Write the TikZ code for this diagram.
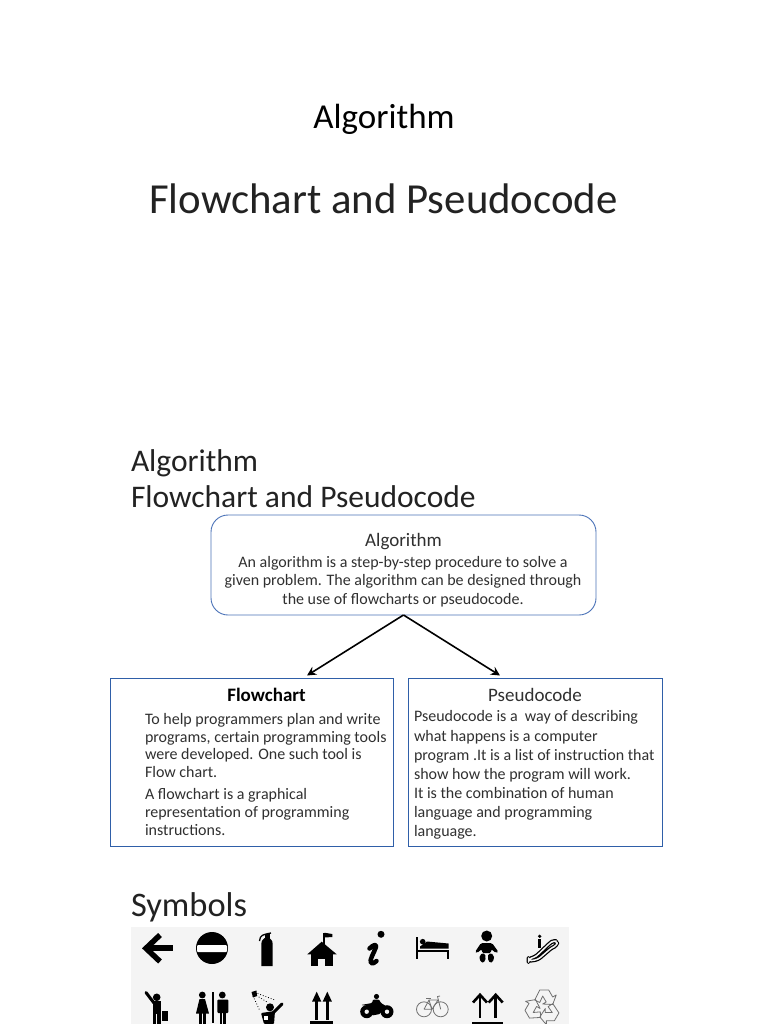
\documentclass[tikz,border=0pt]{standalone}
\usepackage{fontspec}
\setmainfont{Carlito}
\usetikzlibrary{arrows.meta}
\definecolor{bluea}{HTML}{4A72B8}
\definecolor{blueb}{HTML}{2F5FA8}
\definecolor{bodytxt}{HTML}{303030}
\definecolor{headtxt}{HTML}{222222}
\definecolor{iconbg}{HTML}{F4F4F4}
\definecolor{iconline}{HTML}{707070}
\tikzset{
  x=1pt,y=-1pt,
  txt/.style={inner sep=0pt,outer sep=0pt,anchor=base west,text=headtxt},
  ctr/.style={inner sep=0pt,outer sep=0pt,anchor=base,text=black},
  body/.style={inner sep=0pt,outer sep=0pt,anchor=base west,align=left,text=bodytxt},
  bodyc/.style={inner sep=0pt,outer sep=0pt,anchor=base,align=center,text=bodytxt},
  panel/.style={draw=blueb,line width=0.9pt,fill=white,inner sep=0pt,outer sep=0pt,anchor=north west},
  link/.style={draw=black,line width=1.6pt,-{Stealth[length=9pt,width=9pt]}},
  gbike/.style={draw=iconline,fill=none,line width=0.8pt},
}
\begin{document}
\begin{tikzpicture}
\useasboundingbox (0,0) rectangle (768,1024);
\fill[white] (0,0) rectangle (768,1024);
% titles
\node[ctr,font=\fontsize{35}{40}\selectfont] (t1) at (384,129) {Algorithm};
\node[ctr,font=\fontsize{42.8}{48}\selectfont,text=headtxt] (t2) at (383.5,214) {Flowchart and Pseudocode};
\node[txt,font=\fontsize{31.5}{35.5}\selectfont,align=left] (h1) at (131,507) {Algorithm\\Flowchart and Pseudocode};
\node[txt,font=\fontsize{34.4}{40}\selectfont] (h2) at (131,916) {Symbols};
% boxes
\node[panel,draw=bluea,rounded corners=17pt,minimum width=385pt,minimum height=100pt] (algo) at (211,515) {};
\node[panel,minimum width=283pt,minimum height=168pt] (flow) at (110.5,678.5) {};
\node[panel,minimum width=254pt,minimum height=168pt] (pseudo) at (408.5,678.5) {};
% box text
\node[ctr,font=\fontsize{19}{22}\selectfont,text=bodytxt] (algot) at (403.5,546.2) {Algorithm};
\node[bodyc,font=\fontsize{16}{18.8}\selectfont] (algob) at (403,604.6) {An algorithm is a step-by-step procedure to solve a\\given problem. The algorithm can be designed through\\the use of flowcharts or pseudocode.};
\node[ctr,font=\fontsize{19}{22}\selectfont\bfseries] (flowt) at (266.5,701.5) {Flowchart};
\node[body,font=\fontsize{16}{17.8}\selectfont] (flowa) at (145,777.6) {To help programmers plan and write\\programs, certain programming tools\\were developed. One such tool is\\Flow chart.};
\node[body,font=\fontsize{16}{17.8}\selectfont] (flowb) at (145,835) {A flowchart is a graphical\\representation of programming\\instructions.};
\node[ctr,font=\fontsize{19}{22}\selectfont,text=bodytxt] (pseudot) at (535,701.5) {Pseudocode};
\node[body,font=\fontsize{16}{19.1}\selectfont] (pseudob) at (414,836.5) {Pseudocode is a\ \ way of describing\\what happens is a computer\\program .It is a list of instruction that\\show how the program will work.\\It is the combination of human\\language and programming\\language.};
% connectors
\coordinate (flowin) at (307,675.5);
\coordinate (pseudoin) at (500,675.5);
\draw[link] (algo.south) -- (flowin);
\draw[link] (algo.south) -- (pseudoin);
% icon panel
\fill[iconbg] (131,927) rectangle (569,1024);
\begin{scope}
\clip (131,927) rectangle (569,1024);
% left arrow
\draw[black,line width=5.5pt,line join=miter] (160,935) -- (146,948.3) -- (160,961.5);
\fill[black] (150,945.3) rectangle (173,951.3);
% no entry
\fill[black] (212,948) circle (16);
\fill[white,rounded corners=1pt] (197,945) rectangle (227,952);
% extinguisher
\fill[black] (261.3,966) -- (261.3,944) .. controls (261.3,940) and (264,939) .. (264.5,938) -- (269.5,938) .. controls (270,939) and (272.7,940) .. (272.7,944) -- (272.7,966) -- cycle;
\fill[black] (264.5,934) rectangle (269.5,939);
\draw[black,line width=1.3pt] (259.5,941) .. controls (260,935) and (263,934.5) .. (271,933);
% schoolhouse
\fill[black] (321.7,941.7) -- (336.7,954.3) -- (307.3,954.3) -- cycle;
\fill[black] (310.7,953) rectangle (333.3,965.7);
\fill[iconbg] (318.3,958.5) rectangle (325.3,965.7);
\draw[black,line width=1.2pt] (324,933) -- (324,945);
\fill[black] (324.5,932.7) -- (332.3,934) -- (332.3,937) -- (324.5,937.5) -- cycle;
% info
\fill[black] (381,934.3) circle (3.5);
\draw[black,line width=4.5pt,line cap=round,line join=round] (369.5,948.5) .. controls (373,945) and (377,943.5) .. (376,947) .. controls (374,953) and (369,960) .. (371,963) .. controls (372,964) and (375,963) .. (376.5,961);
% bed
\fill[black] (416,937) rectangle (418,958.5);
\fill[black] (416,950) rectangle (448.5,952);
\fill[black] (446.5,950) rectangle (448.5,958.5);
\fill[black] (422.7,941.7) circle (2.8);
\fill[black] (427,941.5) -- (448.5,943.5) -- (448.5,948.5) -- (420,948.5) -- (420,946.5) -- cycle;
% baby
\fill[black] (486.7,936) circle (5.5);
\fill[black,rounded corners=1.5pt] (475,952) -- (481,943) -- (492,943) -- (498.5,952) -- (496,953) -- (491,949) -- (491,953) -- (482,953) -- (482,949) -- (477,953) -- cycle;
\fill[black] (479.5,957) .. controls (481,951) and (487,953) .. (485.5,959) .. controls (484.5,964) and (480,964) .. (479.5,957) -- cycle;
\fill[black] (494,957) .. controls (492.5,951) and (486.5,953) .. (488,959) .. controls (489,964) and (493.5,964) .. (494,957) -- cycle;
% escalator
\draw[black,line width=4pt,line join=round,rounded corners=3pt] (528.5,959) -- (535,957) -- (538,954.5) -- (550,943) -- (553,941) -- (557,941) -- (557,945.5) -- (552,947.5) -- (538,959.5) -- (528.5,961) -- cycle;
\draw[iconbg,line width=1.5pt,line join=round,rounded corners=3pt] (528.5,959) -- (535,957) -- (538,954.5) -- (550,943) -- (553,941) -- (557,941) -- (557,945.5) -- (552,947.5) -- (538,959.5) -- (528.5,961) -- cycle;
\fill[black] (539.7,936.3) circle (1.8);
\fill[black] (538.2,939) rectangle (541.2,947.5);
% person with case
\fill[black] (156.7,997.3) circle (3.8);
\draw[black,line width=3pt,line cap=round] (146,992.5) -- (154,1003);
\fill[black] (152.7,1001) rectangle (160.7,1014);
\fill[black] (153,1013) rectangle (156.3,1024);
\fill[black] (157.3,1013) rectangle (160.7,1024);
\fill[black] (161.5,1010.5) rectangle (167.5,1021);
\fill[iconbg] (160.8,1012) rectangle (161.6,1021);
% wc
\fill[black] (202.3,995) circle (3.4);
\fill[black] (199.5,999) -- (205,999) -- (209,1013.5) -- (196,1013.5) -- cycle;
\fill[black] (199.3,1013) rectangle (201.6,1024);
\fill[black] (203.2,1013) rectangle (205.5,1024);
\fill[black] (211.8,991.7) rectangle (214.3,1022.7);
\fill[black] (222.3,995) circle (3.4);
\fill[black,rounded corners=1pt] (217.3,999.5) rectangle (228.3,1013);
\fill[black] (219.5,1012) rectangle (222.2,1024);
\fill[black] (222.8,1012) rectangle (225.5,1024);
% shower
\fill[black] (270,1007.3) circle (4);
\fill[black] (251.5,992) -- (256.5,990.5) -- (257,996) -- (253,997.5) -- cycle;
\draw[black,line width=0.8pt,dotted] (255,992.5) -- (275,1000);
\draw[black,line width=0.8pt,dotted] (254,994) -- (267,1002);
\draw[black,line width=0.8pt,dotted] (253,996) -- (260,1011);
\draw[black,line width=3pt,line cap=round] (273,1013) -- (282,1004);
\fill[black,rounded corners=1pt] (261,1013) -- (275,1011) -- (274,1024) -- (264,1024) -- cycle;
\fill[white] (264,1016) rectangle (267.5,1020);
% up arrows 1
\foreach \ax in {316.7,327.3}{
  \fill[black] (\ax,991.7) -- (\ax+4.6,1001.5) -- (\ax-4.6,1001.5) -- cycle;
  \fill[black] (\ax-1.6,1000) rectangle (\ax+1.6,1020);
}
\fill[black] (310,1021) rectangle (333.3,1024);
% motorcycle
\foreach \wx in {366.7,387}{
  \fill[black] (\wx,1011.7) circle (6.5);
  \fill[iconbg] (\wx,1011.7) circle (2.2);
}
\fill[black] (376.5,996.5) circle (2.6);
\fill[black,rounded corners=1pt] (373,999.5) -- (379,999.5) -- (381,1003) -- (386,1006) -- (383,1008) -- (380,1014) -- (372,1015.5) -- (368,1006) -- (361,1005) -- (372,1003) -- cycle;
% bicycle
\draw[gbike] (424,1009.3) circle (7.5);
\draw[gbike] (440.7,1009.3) circle (7.5);
\draw[gbike] (424,1009.3) -- (429,1000) -- (438,1000) -- (432,1009.3) -- (424,1009.3);
\draw[gbike] (429,1000) -- (432,1009.3);
\draw[gbike] (440.7,1009.3) -- (437.5,996.5) -- (440,996);
\draw[gbike] (426,998.5) -- (431,998.5);
% up arrows 2
\foreach \bx in {480,495.7}{
  \draw[black,line width=2.6pt] (\bx-7,1002.5) -- (\bx,994.8) -- (\bx+7,1002.5);
  \fill[black] (\bx-1.4,996) rectangle (\bx+1.4,1018);
}
\fill[black] (471.7,1021.7) rectangle (503.3,1024);
% recycle
\foreach \rr in {0,120,240}{
  \begin{scope}[shift={(542.7,1007)},rotate=\rr]
    \draw[iconline,line width=0.8pt,line join=round] (-8,-7) -- (-3,-17) -- (6,-17) -- (10,-10) -- (13.5,-12) -- (10,-2.5) -- (0,-3) -- (3.5,-5) -- (0,-11) -- (-3,-4.5) -- cycle;
  \end{scope}
}
\end{scope}
\end{tikzpicture}
\end{document}
